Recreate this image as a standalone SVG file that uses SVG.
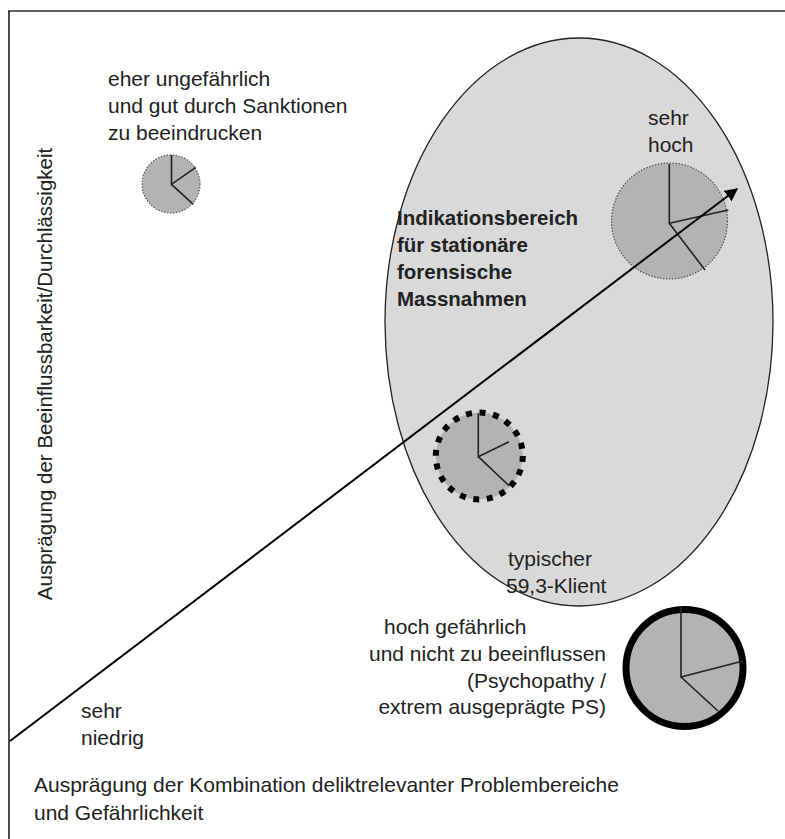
<svg xmlns="http://www.w3.org/2000/svg" width="785" height="839" viewBox="0 0 785 839">
<style>
text{font-family:"Liberation Sans",Arial,sans-serif;font-size:21px;fill:#222}
.b{font-weight:bold;font-size:20.5px}
.v{font-size:20.5px}
.pie{fill:#b3b3b3}
.dot{stroke:#555;stroke-width:1.2;stroke-dasharray:1.5 1.5}
.sp{stroke:#222;stroke-width:1.6;fill:none}
</style>
<defs>
<marker id="ah" viewBox="0 0 10 10" refX="9" refY="5" markerWidth="13" markerHeight="13" markerUnits="userSpaceOnUse" orient="auto">
<path d="M0,0 L10,5 L0,10 z" fill="#000"/>
</marker>
</defs>
<rect width="785" height="839" fill="#fff"/>
<g id="frame">
<line x1="8" y1="11" x2="785" y2="11" stroke="#666" stroke-width="2"/>
<line x1="9" y1="11" x2="9" y2="839" stroke="#111" stroke-width="1.5"/>
</g>
<g id="indikationsbereich">
<ellipse cx="579" cy="322" rx="194" ry="284" fill="#d9d9d9" stroke="#222" stroke-width="1.3"/>
<text class="b" x="397" y="225">Indikationsbereich</text>
<text class="b" x="397" y="252">für stationäre</text>
<text class="b" x="397" y="279">forensische</text>
<text class="b" x="397" y="306">Massnahmen</text>
</g>
<g id="ungefaehrlich">
<circle class="pie dot" cx="171" cy="184" r="29"/>
<path class="sp" d="M171.5,155 V184.3 L195.7,167.3 M171.5,184.3 L193.3,204.3"/>
<text x="108" y="86">eher ungefährlich</text>
<text x="108" y="113">und gut durch Sanktionen</text>
<text x="108" y="140">zu beeindrucken</text>
</g>
<g id="sehr-hoch">
<circle class="pie dot" cx="669.5" cy="221" r="58"/>
<path class="sp" d="M669.3,164 V223.3 L728.3,210 M669.3,223.3 L705,270"/>
<text x="648" y="125">sehr</text>
<text x="648" y="152">hoch</text>
</g>
<g id="typisch">
<circle class="pie" cx="479.3" cy="456" r="43.5" stroke="#000" stroke-width="6" stroke-dasharray="6 7.66"/>
<path class="sp" d="M478.3,413.3 V456.7 L509,441.7 M478.3,456.7 L509.3,486"/>
<text x="508" y="566">typischer</text>
<text x="506" y="593">59,3-Klient</text>
</g>
<g id="hochgefaehrlich">
<circle class="pie" cx="684.5" cy="668" r="58.5" stroke="#000" stroke-width="7"/>
<path class="sp" d="M681,607 V677 L743,661 M681,677 L718,711"/>
<text x="384" y="634">hoch gefährlich</text>
<text x="606" y="661" text-anchor="end">und nicht zu beeinflussen</text>
<text x="606" y="688" text-anchor="end">(Psychopathy /</text>
<text x="606" y="714" text-anchor="end">extrem ausgeprägte PS)</text>
</g>
<g id="connectors">
<line x1="10" y1="741" x2="737" y2="189" stroke="#000" stroke-width="2" marker-end="url(#ah)"/>
</g>
<g id="labels">
<text x="81" y="718">sehr</text>
<text x="81" y="745">niedrig</text>
<text x="34" y="792">Ausprägung der Kombination deliktrelevanter Problembereiche</text>
<text x="34" y="820">und Gefährlichkeit</text>
<text class="v" transform="translate(52,374) rotate(-90)" text-anchor="middle">Ausprägung der Beeinflussbarkeit/Durchlässigkeit</text>
</g>
</svg>
